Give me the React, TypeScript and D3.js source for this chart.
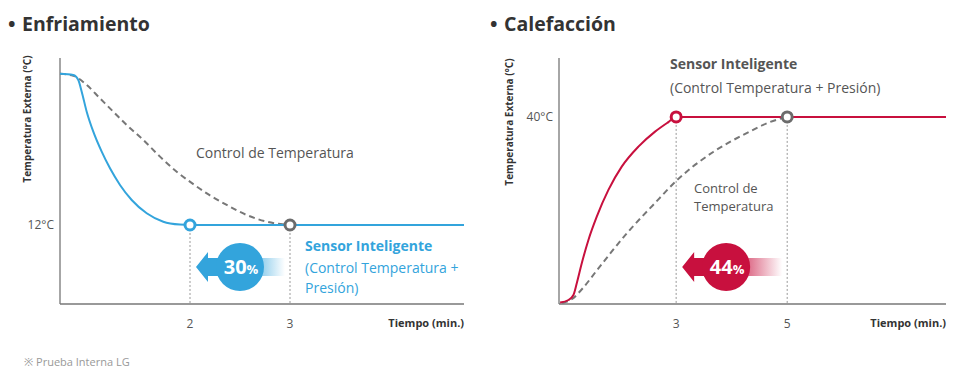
import * as d3 from 'd3';

// Enfriamiento (cooling) series: [minutes, °C]
const coolSmart: [number, number][] = [
  [0.7, 29.9], [0.833, 29.76], [0.883, 29.17], [0.917, 27.79], [0.967, 25.42],
  [1.033, 23.05], [1.117, 20.68], [1.2, 18.71], [1.3, 16.74], [1.417, 14.96],
  [1.567, 13.39], [1.733, 12.39], [1.9, 12.05], [2.0, 12], [4.74, 12],
];
const coolControl: [number, number][] = [
  [0.7, 29.9], [0.833, 29.68], [0.967, 28.58], [1.1, 27.0], [1.233, 25.42],
  [1.367, 23.84], [1.533, 22.07], [1.7, 20.1], [1.867, 18.31], [2.033, 16.84],
  [2.2, 15.5], [2.367, 14.37], [2.567, 13.18], [2.767, 12.39], [3.0, 12],
];
const coolTicks = [2, 3];

// Calefacción (heating) series
const heatSmart: [number, number][] = [
  [0.91, 0.3], [1.06, 0.86], [1.15, 1.93], [1.21, 4.43], [1.3, 8.71], [1.42, 13.69],
  [1.57, 18.67], [1.78, 24.39], [2.02, 29.37], [2.32, 33.65], [2.62, 36.86],
  [2.86, 38.9], [3.0, 40], [7.86, 40],
];
const heatControl: [number, number][] = [
  [0.946, 0.21], [1.126, 1.07], [1.306, 3.21], [1.577, 7.27], [2.117, 15.19],
  [2.586, 21.18], [3.02, 26.52], [3.667, 32.51], [4.279, 36.58], [4.694, 38.93], [5.0, 40],
];
const heatTicks = [3, 5];

const BLUE = '#33a4dc';
const RED = '#c8103e';
const GREY = '#6c6c6c';
const FONT = '"Open Sans", "Noto Sans", sans-serif';

interface PanelProps {
  title: string;
  titleX: number;
  labelX: number;
  labelY: number;
  left: number;
  right: number;
  xDomain: [number, number];
  yDomain: [number, number];
  smart: [number, number][];
  control: [number, number][];
  ticks: number[];
  level: number;
  levelLabel: string;
  color: string;
  pct: string;
  gradId: string;
  children?: any;
}

function Panel(p: PanelProps) {
  const top = 58;
  const bottom = 304;
  const x = d3.scaleLinear().domain(p.xDomain).range([p.left, p.right]);
  const y = d3.scaleLinear().domain(p.yDomain).range([bottom, top]);
  const line = d3
    .line<[number, number]>()
    .x((d) => x(d[0]))
    .y((d) => y(d[1]))
    .curve(d3.curveMonotoneX);

  const tSmart = p.ticks[0];
  const tControl = p.ticks[1];
  const yl = y(p.level);
  // arrow between the two marker times
  const ax0 = x(tSmart) + 6;
  const ax1 = x(tControl) - 5;
  const ay = 267;
  const cx = ax0 + 44;

  return (
    <g>
      <text x={p.titleX - 14} y={31} fontFamily={FONT} fontWeight={700} fontSize={20} fill="#333">
        •
      </text>
      <text x={p.titleX} y={31} fontFamily={FONT} fontWeight={700} fontSize={19.5} fill="#333">
        {p.title}
      </text>
      <text
        transform={`translate(${p.labelX},${p.labelY}) rotate(-90)`}
        textAnchor="middle"
        fontFamily={FONT}
        fontWeight={700}
        fontSize={10}
        fill="#333"
      >
        Temperatura Externa (°C)
      </text>
      <text x={p.left - 6} y={yl + 4} textAnchor="end" fontFamily={FONT} fontSize={12} fill="#555">
        {p.levelLabel}
      </text>

      {/* dotted guides */}
      {p.ticks.map((t) => (
        <line key={t} x1={x(t)} x2={x(t)} y1={yl} y2={bottom} stroke="#999" strokeDasharray="2,2" />
      ))}

      {/* axes */}
      <line x1={p.left} x2={p.left} y1={top} y2={bottom} stroke="#888" strokeWidth={1.5} />
      <line x1={p.left} x2={p.right} y1={bottom} y2={bottom} stroke="#777" strokeWidth={1.5} />
      {p.ticks.map((t) => (
        <text key={t} x={x(t)} y={328} textAnchor="middle" fontFamily={FONT} fontSize={12} fill="#555">
          {t}
        </text>
      ))}
      <text x={p.right} y={327} textAnchor="end" fontFamily={FONT} fontWeight={700} fontSize={11} fill="#333">
        Tiempo (min.)
      </text>

      {/* curves */}
      <path d={line(p.control) || ''} fill="none" stroke="#777" strokeWidth={2} strokeDasharray="6,4" />
      <path d={line(p.smart) || ''} fill="none" stroke={p.color} strokeWidth={2} />

      {/* markers */}
      <circle cx={x(tSmart)} cy={yl} r={5} fill="#fff" stroke={p.color} strokeWidth={3} />
      <circle cx={x(tControl)} cy={yl} r={5} fill="#fff" stroke={GREY} strokeWidth={3} />

      {/* reduction arrow */}
      <defs>
        <linearGradient id={p.gradId} x1="0" x2="1" y1="0" y2="0">
          <stop offset="0" stopColor={p.color} stopOpacity={1} />
          <stop offset="1" stopColor={p.color} stopOpacity={0} />
        </linearGradient>
      </defs>
      <rect x={cx} y={ay - 9} width={ax1 - cx} height={18} fill={`url(#${p.gradId})`} />
      <path
        d={`M${ax0},${ay} L${ax0 + 12},${ay - 15} L${ax0 + 12},${ay - 9} L${cx},${ay - 9} L${cx},${ay + 9} L${ax0 + 12},${ay + 9} L${ax0 + 12},${ay + 15} Z`}
        fill={p.color}
      />
      <circle cx={cx} cy={ay} r={24} fill={p.color} />
      <text x={cx + 1} y={ay + 7} textAnchor="middle" fontFamily={FONT} fontWeight={700} fill="#fff">
        <tspan fontSize={20}>{p.pct}</tspan>
        <tspan fontSize={13}>%</tspan>
      </text>
      {p.children}
    </g>
  );
}

export default function App() {
  return (
    <svg
      width={960}
      height={391}
      style={{ position: 'absolute', left: 0, top: 0, background: '#fff' }}
    >
      <Panel
        title="Enfriamiento"
        titleX={22}
        labelX={30.5}
        labelY={119}
        left={60}
        right={464}
        xDomain={[0.7, 4.74]}
        yDomain={[2.64, 31.78]}
        smart={coolSmart}
        control={coolControl}
        ticks={coolTicks}
        level={12}
        levelLabel="12°C"
        color={BLUE}
        pct="30"
        gradId="gBlue"
      >
        <text x={196} y={158} fontFamily={FONT} fontSize={14} fill="#555">
          Control de Temperatura
        </text>
        <text fontFamily={FONT} fontSize={14} fill={BLUE}>
          <tspan x={305} y={251} fontWeight={700}>Sensor Inteligente</tspan>
          <tspan x={305} y={273}>(Control Temperatura +</tspan>
          <tspan x={305} y={293}>Presión)</tspan>
        </text>
      </Panel>
      <Panel
        title="Calefacción"
        titleX={504}
        labelX={513}
        labelY={122}
        left={559}
        right={946}
        xDomain={[0.89, 7.86]}
        yDomain={[0, 52.6]}
        smart={heatSmart}
        control={heatControl}
        ticks={heatTicks}
        level={40}
        levelLabel="40°C"
        color={RED}
        pct="44"
        gradId="gRed"
      >
        <text fontFamily={FONT} fontSize={14} fill="#555">
          <tspan x={670} y={69} fontWeight={700}>Sensor Inteligente</tspan>
          <tspan x={670} y={93}>(Control Temperatura + Presión)</tspan>
        </text>
        <text fontFamily={FONT} fontSize={13} fill="#555">
          <tspan x={694} y={193}>Control de</tspan>
          <tspan x={694} y={211}>Temperatura</tspan>
        </text>
      </Panel>
      <text x={24} y={366} fontFamily={FONT} fontSize={11} fill="#999">
        ※ Prueba Interna LG
      </text>
    </svg>
  );
}
